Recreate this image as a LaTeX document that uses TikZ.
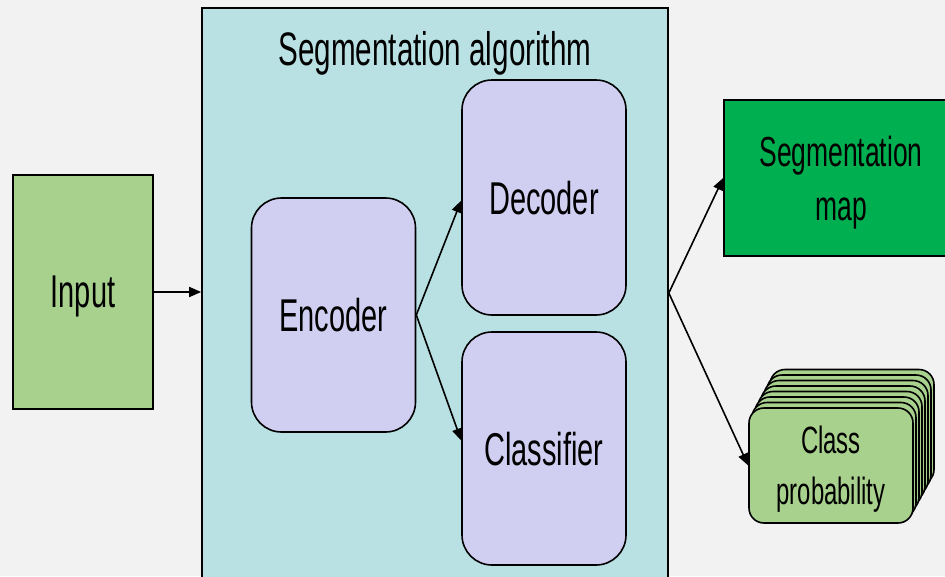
\documentclass[tikz,border=0pt]{standalone}
\usepackage{fontspec}
\setmainfont{Liberation Sans}[FakeStretch=0.63]
\usetikzlibrary{arrows.meta}

\definecolor{bggray}{HTML}{F2F2F2}
\definecolor{leafgreen}{HTML}{A9D18E}
\definecolor{algoteal}{HTML}{B9E0E3}
\definecolor{lavender}{HTML}{D1CFF1}
\definecolor{mapgreen}{HTML}{00B050}

\begin{document}
\begin{tikzpicture}[
            x = 1pt, y = -1pt,
            every node/.style={inner sep=0pt, text depth=0pt, align=center},
            block/.style={draw, line width=1.6pt},
            soft/.style={block, fill=lavender, rounded corners=30pt, minimum width=164pt, font=\fontsize{46}{50}\selectfont},
            probbox/.style={block, fill=leafgreen, rounded corners=15pt, minimum width=164pt, minimum height=115pt, font=\fontsize{38}{51}\selectfont},
            arr/.style={line width=1.6pt, -{Triangle[length=12pt, width=10pt]}},
            ]

        \fill[bggray] (0,0) rectangle (945,576);
        \useasboundingbox (0,0) rectangle (945,576);
        \clip (0,0) rectangle (945,576);

        \node[block, fill=leafgreen, minimum width=140pt, minimum height=234pt, font=\fontsize{46}{50}\selectfont] (input) at (83,292) {Input};
        \node[block, fill=algoteal, minimum width=466pt, minimum height=570pt] (algo) at (435,293) {};
        \node[font=\fontsize{47}{50}\selectfont] (title) at (435,48) {Segmentation algorithm};

        \node[soft, minimum height=234pt] (encoder) at (333.5,315) {Encoder};
        \node[soft, minimum height=235pt] (decoder) at (544,197.5) {Decoder};
        \node[soft, minimum height=233pt] (classifier) at (544,448.5) {Classifier};

        \node[block, fill=mapgreen, minimum width=234pt, minimum height=156pt, font=\fontsize{42}{54}\selectfont] (segmap) at (841,178) {Segmentation\\map};

        \foreach \k in {7,6,...,1}
            \node[probbox] (prob\k) at (831+3*\k, 465.5-5.5*\k) {};
        \node[probbox] (prob) at (831,465.5) {Class\\probability};

        \draw[arr] (input.east) -- (input.east -| algo.west);
        \draw[arr] (encoder.east) -- ([yshift=-3pt]decoder.west);
        \draw[arr] (encoder.east) -- ([yshift=8pt]classifier.west);
        \draw[arr] (algo.east) -- (segmap.west);
        \draw[arr] (algo.east) -- (prob.west);

    \end{tikzpicture}
\end{document}
